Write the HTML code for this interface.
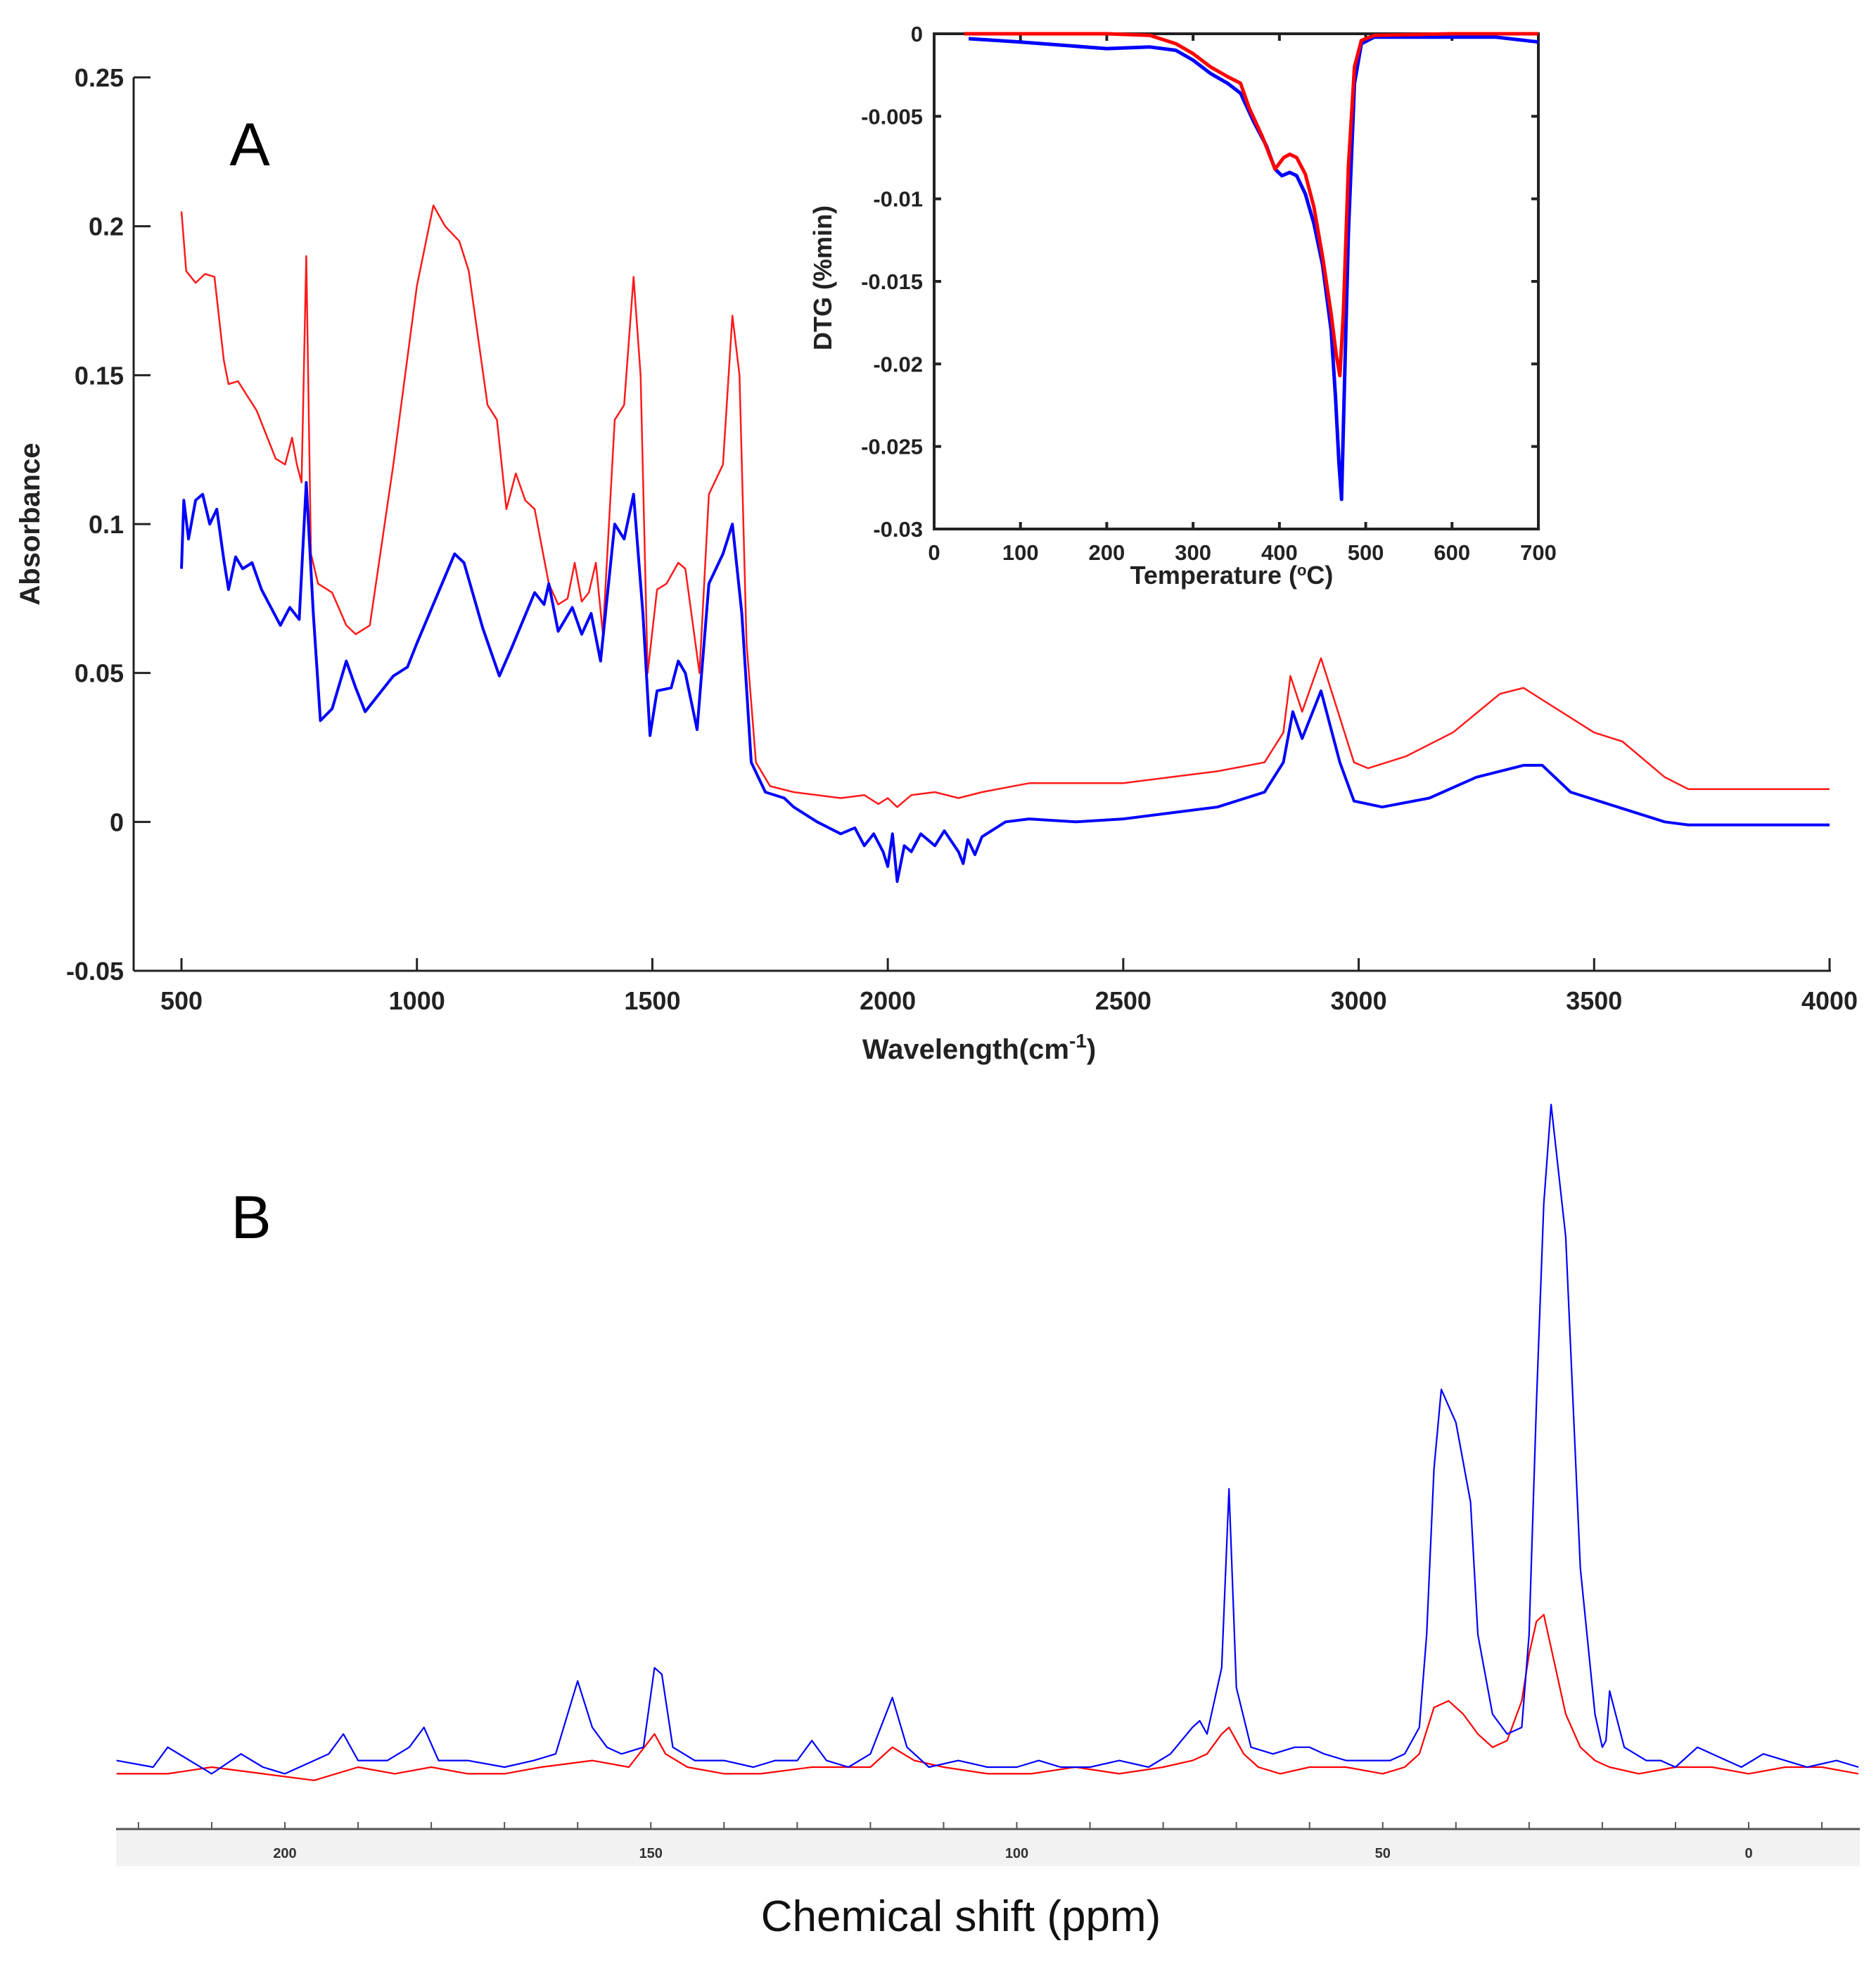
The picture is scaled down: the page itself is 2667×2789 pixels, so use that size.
<!DOCTYPE html>
<html><head><meta charset="utf-8"><style>
html,body{margin:0;padding:0;background:#fff;}
svg{display:block;font-family:"Liberation Sans",Arial,sans-serif;}
</style></head><body>
<svg id="fig" width="2667" height="2789" viewBox="0 0 2667 2789" xmlns="http://www.w3.org/2000/svg">
<rect width="2667" height="2789" fill="#fff"/>
<g id="ftir"></g>
<g id="dtg"></g>
<g id="nmr"></g>
</svg>
<script>
// ---------- FTIR data ----------
const ftirRedX=[500,510,530,550,570,590,600,620,640,660,680,700,720,735,745,755,765,775,790,820,850,870,900,950,1000,1035,1060,1090,1110,1150,1170,1190,1210,1230,1250,1280,1300,1320,1335,1350,1365,1380,1395,1420,1440,1460,1475,1490,1510,1530,1555,1570,1600,1620,1650,1670,1685,1700,1720,1750,1800,1900,1950,1980,2000,2020,2050,2100,2150,2200,2300,2400,2500,2600,2700,2800,2840,2855,2880,2920,2950,2990,3020,3100,3200,3300,3350,3400,3500,3560,3650,3700,3800,4000];
const ftirRedY=[0.205,0.185,0.181,0.184,0.183,0.155,0.147,0.148,0.143,0.138,0.13,0.122,0.12,0.129,0.12,0.114,0.19,0.09,0.08,0.077,0.066,0.063,0.066,0.12,0.18,0.207,0.2,0.195,0.185,0.14,0.135,0.105,0.117,0.108,0.105,0.08,0.073,0.075,0.087,0.074,0.077,0.087,0.063,0.135,0.14,0.183,0.15,0.05,0.078,0.08,0.087,0.085,0.05,0.11,0.12,0.17,0.15,0.06,0.02,0.012,0.01,0.008,0.009,0.006,0.008,0.005,0.009,0.01,0.008,0.01,0.013,0.013,0.013,0.015,0.017,0.02,0.03,0.049,0.037,0.055,0.04,0.02,0.018,0.022,0.03,0.043,0.045,0.04,0.03,0.027,0.015,0.011,0.011,0.011];
const ftirBlueX=[500,505,515,530,545,560,575,590,600,615,630,650,670,690,710,730,750,765,780,795,820,850,870,890,920,950,980,1000,1040,1080,1100,1140,1175,1200,1250,1270,1280,1300,1330,1350,1370,1390,1420,1440,1460,1480,1495,1510,1540,1555,1570,1595,1620,1650,1670,1690,1710,1740,1780,1800,1850,1900,1930,1950,1970,1990,2000,2010,2020,2035,2050,2070,2100,2120,2150,2160,2170,2185,2200,2250,2300,2400,2500,2600,2700,2800,2840,2860,2880,2920,2960,2990,3050,3150,3250,3350,3390,3450,3550,3650,3700,3800,4000];
const ftirBlueY=[0.085,0.108,0.095,0.108,0.11,0.1,0.105,0.088,0.078,0.089,0.085,0.087,0.078,0.072,0.066,0.072,0.068,0.114,0.07,0.034,0.038,0.054,0.045,0.037,0.043,0.049,0.052,0.06,0.075,0.09,0.087,0.065,0.049,0.058,0.077,0.073,0.08,0.064,0.072,0.063,0.07,0.054,0.1,0.095,0.11,0.07,0.029,0.044,0.045,0.054,0.05,0.031,0.08,0.09,0.1,0.07,0.02,0.01,0.008,0.005,0.0,-0.004,-0.002,-0.008,-0.004,-0.01,-0.015,-0.004,-0.02,-0.008,-0.01,-0.004,-0.008,-0.003,-0.01,-0.014,-0.006,-0.011,-0.005,0.0,0.001,0.0,0.001,0.003,0.005,0.01,0.02,0.037,0.028,0.044,0.02,0.007,0.005,0.008,0.015,0.019,0.019,0.01,0.005,0.0,-0.001,-0.001,-0.001];
const ftirXTicks=[500,1000,1500,2000,2500,3000,3500,4000];
const ftirYTicks=[0.25,0.2,0.15,0.1,0.05,0,-0.05];
const ftirYLabels=["0.25","0.2","0.15","0.1","0.05","0","-0.05"];
// ---------- DTG data ----------
const dtgRedX=[35,100,200,250,280,300,320,340,355,365,380,395,405,412,420,430,440,450,460,466,470,474,480,487,495,510,600,700];
const dtgRedY=[0,0,0,-0.0001,-0.0006,-0.0012,-0.002,-0.0026,-0.003,-0.0045,-0.0062,-0.0082,-0.0075,-0.0073,-0.0075,-0.0085,-0.0105,-0.0135,-0.017,-0.0195,-0.0207,-0.017,-0.008,-0.002,-0.0004,-0.0001,0,0];
const dtgBlueX=[40,100,200,250,280,300,320,340,355,370,385,395,403,412,420,430,440,450,460,465,469,472,475,480,487,495,510,600,650,700];
const dtgBlueY=[-0.0003,-0.0005,-0.0009,-0.0008,-0.001,-0.0016,-0.0024,-0.003,-0.0036,-0.0053,-0.0068,-0.0082,-0.0086,-0.0084,-0.0086,-0.0097,-0.0115,-0.014,-0.018,-0.022,-0.026,-0.0282,-0.022,-0.012,-0.003,-0.0006,-0.0002,-0.0002,-0.0002,-0.0005];
const dtgXTicks=[0,100,200,300,400,500,600,700];
const dtgYTicks=[0,-0.005,-0.01,-0.015,-0.02,-0.025,-0.03];
const dtgYLabels=["0","-0.005","-0.01","-0.015","-0.02","-0.025","-0.03"];
// ---------- NMR data ----------
const nmrBlueX=[223,218,216,213,210,206,203,200,196,194,192,190,186,183,181,179,175,170,166,163,160,158,156,154,151,149.5,148.5,147,144,140,136,133,130,128,126,123,120,117,115,112,108,104,100,97,94,90,86,82,79,76,75,74,72,71,70,68,65,62,60,58,55,52,49,47,45,44,43,42,40,38,37,35,33,31,30,29,28,27,25,23,21,20,19.5,19,17,14,12,10,7,3,1,-2,-5,-8,-12,-15];
const nmrBlueY=[1,0,3,1,-1,2,0,-1,1,2,5,1,1,3,6,1,1,0,1,2,13,6,3,2,3,15,14,3,1,1,0,1,1,4,1,0,2,10.5,3,0,1,0,0,1,0,0,1,0,2,6,7,5,15,42,12,3,2,3,3,2,1,1,1,2,6,20,45,57,52,40,20,8,5,6,20,55,85,100,80,30,8,3,4,11.5,3,1,1,0,3,1,0,2,1,0,1,0,0];
const nmrRedX=[223,216,210,203,196,190,185,180,175,170,165,158,153,149.5,148,145,140,135,128,120,117,114,110,104,98,92,86,80,76,74,72,71,69,67,64,60,55,50,47,45,43,41,39,37,35,33,31,30,29,28,27,25,23,21,19,15,10,5,0,-5,-10,-15];
const nmrRedY=[-1,-1,0,-1,-2,0,-1,0,-1,-1,0,1,0,5,2,0,-1,-1,0,0,3,1,0,-1,-1,0,-1,0,1,2,5,6,2,0,-1,0,0,-1,0,2,9,10,8,5,3,4,10,17,22,23,18,8,3,1,0,-1,0,0,-1,0,0,-1];
const nmrTickLabels=[200,150,100,50,0];

const NS="http://www.w3.org/2000/svg";
function mk(parent,tag,attrs,text){const e=document.createElementNS(NS,tag);for(const k in attrs)e.setAttribute(k,attrs[k]);if(text!==undefined)e.textContent=text;parent.appendChild(e);return e;}
function pathD(xs,ys,fx,fy){return xs.map((x,i)=>(i?'L':'M')+fx(x).toFixed(1)+','+fy(ys[i]).toFixed(1)).join('');}

// ===== FTIR =====
(function(){
const g=document.getElementById('ftir');
const fx=v=>258+(v-500)*(2601-258)/3500;
const fy=v=>110+(0.25-v)*(1380-110)/0.3;
let e;
e=mk(g,'line',{x1:190,y1:110,x2:190,y2:1380,stroke:'#222','stroke-width':3});


e=mk(g,'line',{x1:190,y1:1380,x2:2603,y2:1380,stroke:'#222','stroke-width':3});


ftirYTicks.forEach((t,i)=>{
  mk(g,'line',{x1:190,y1:fy(t),x2:214,y2:fy(t),stroke:'#222','stroke-width':3});
  e=mk(g,'text',{x:176,y:fy(t)+13,'text-anchor':'end','font-size':36,'font-weight':'bold',fill:'#222'},ftirYLabels[i]);
  
  
});
ftirXTicks.forEach(t=>{
  mk(g,'line',{x1:fx(t),y1:1380,x2:fx(t),y2:1362,stroke:'#222','stroke-width':3});
  e=mk(g,'text',{x:fx(t),y:1435,'text-anchor':'middle','font-size':36,'font-weight':'bold',fill:'#222'},String(t));
  
  
});
e=mk(g,'text',{x:1392,y:1505,'text-anchor':'middle','font-size':40,'font-weight':'bold',fill:'#222'});
e.innerHTML='Wavelength(cm<tspan dy="-16" font-size="28">-1</tspan><tspan dy="16">)</tspan>';


e=mk(g,'text',{x:0,y:0,transform:'translate(56,745) rotate(-90)','text-anchor':'middle','font-size':40,'font-weight':'bold',fill:'#222'},'Absorbance');


e=mk(g,'text',{x:355,y:235,'text-anchor':'middle','font-size':86,fill:'#000'},'A');


e=mk(g,'path',{d:pathD(ftirRedX,ftirRedY,fx,fy),fill:'none',stroke:'#ff1a1a','stroke-width':2.5,'stroke-linejoin':'round'});


e=mk(g,'path',{d:pathD(ftirBlueX,ftirBlueY,fx,fy),fill:'none',stroke:'#0000ff','stroke-width':4,'stroke-linejoin':'round'});


})();

// ===== DTG inset =====
(function(){
const g=document.getElementById('dtg');
const L=1328,R=2187,T=48,B=752;
const fx=v=>L+v*(R-L)/700;
const fy=v=>T+(-v)*(B-T)/0.03;
let e;
e=mk(g,'rect',{x:L,y:T,width:R-L,height:B-T,fill:'#fff',stroke:'#222','stroke-width':4});


dtgYTicks.forEach((t,i)=>{
  mk(g,'line',{x1:L,y1:fy(t),x2:L+10,y2:fy(t),stroke:'#222','stroke-width':4});
  mk(g,'line',{x1:R-10,y1:fy(t),x2:R,y2:fy(t),stroke:'#222','stroke-width':4});
  e=mk(g,'text',{x:L-16,y:fy(t)+11,'text-anchor':'end','font-size':31,'font-weight':'bold',fill:'#222'},dtgYLabels[i]);
  
  
});
dtgXTicks.forEach(t=>{
  mk(g,'line',{x1:fx(t),y1:B,x2:fx(t),y2:B-10,stroke:'#222','stroke-width':4});
  mk(g,'line',{x1:fx(t),y1:T,x2:fx(t),y2:T+10,stroke:'#222','stroke-width':4});
  e=mk(g,'text',{x:fx(t),y:B+44,'text-anchor':'middle','font-size':31,'font-weight':'bold',fill:'#222'},String(t));
  
  
});
e=mk(g,'text',{x:1751,y:830,'text-anchor':'middle','font-size':36,'font-weight':'bold',fill:'#222'});
e.innerHTML='Temperature (<tspan dy="-12" font-size="22">o</tspan><tspan dy="12">C)</tspan>';


e=mk(g,'text',{x:0,y:0,transform:'translate(1182,395) rotate(-90)','text-anchor':'middle','font-size':36,'font-weight':'bold',fill:'#222'},'DTG (%min)');


e=mk(g,'path',{d:pathD(dtgBlueX,dtgBlueY,fx,fy),fill:'none',stroke:'#0000ff','stroke-width':5,'stroke-linejoin':'round'});


e=mk(g,'path',{d:pathD(dtgRedX,dtgRedY,fx,fy),fill:'none',stroke:'#ff0000','stroke-width':5,'stroke-linejoin':'round'});


})();

// ===== NMR =====
(function(){
const g=document.getElementById('nmr');
const fx=v=>2486-v*10.405;
const fy=v=>2512-v*9.42;
let e;
e=mk(g,'rect',{x:165,y:2601,width:2479,height:52,fill:'#f2f2f2'});


e=mk(g,'line',{x1:165,y1:2600,x2:2644,y2:2600,stroke:'#555','stroke-width':3});


for(let p=220;p>=-10;p-=10){
  mk(g,'line',{x1:fx(p),y1:2600,x2:fx(p),y2:2590,stroke:'#555','stroke-width':2});
}
nmrTickLabels.forEach(t=>{
  e=mk(g,'text',{x:fx(t),y:2641,'text-anchor':'middle','font-size':20,'font-weight':'bold',fill:'#333'},String(t));
  
  
});
e=mk(g,'text',{x:1366,y:2745,'text-anchor':'middle','font-size':62,fill:'#111'},'Chemical shift (ppm)');


e=mk(g,'text',{x:357,y:1760,'text-anchor':'middle','font-size':86,fill:'#000'},'B');


e=mk(g,'path',{d:pathD(nmrRedX,nmrRedY,fx,fy),fill:'none',stroke:'#ff0000','stroke-width':2.2,'stroke-linejoin':'round'});


e=mk(g,'path',{d:pathD(nmrBlueX,nmrBlueY,fx,fy),fill:'none',stroke:'#0000ff','stroke-width':2.2,'stroke-linejoin':'round'});


})();
</script>
</body></html>
